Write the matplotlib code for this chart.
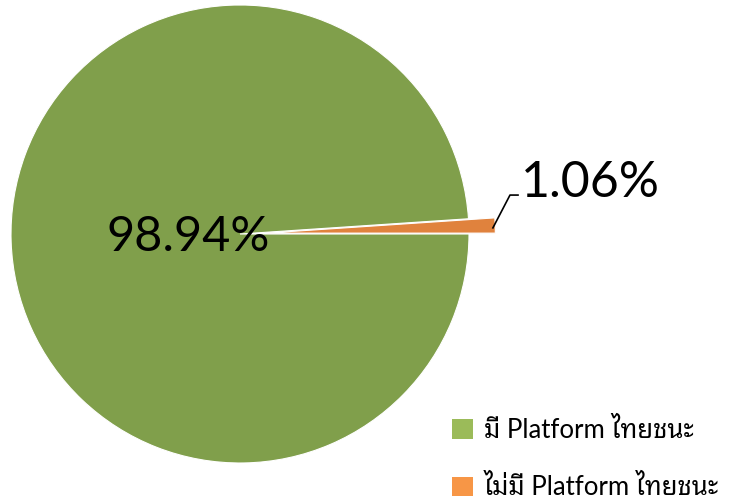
#==[0] Prep environment
import matplotlib
matplotlib.use("Agg")
import matplotlib.pyplot as plt
import numpy as np
from matplotlib.patches import Patch

#==[1] Chart data
labels = ["มี Platform ไทยชนะ", "ไม่มี Platform ไทยชนะ"]
shares = [98.94, 1.06]
pieColors = ["#809F4B", "#E0823D"]
legendColors = ["#9BBB59", "#F79646"]

fontList = ["Lato", "Noto Sans Thai Looped", "DejaVu Sans"]

#==[2] Figure, axes fill the whole picture, radius 1 = 229 px
W, H = 731, 504
cx, cy, R = 240, 234, 229
fig = plt.figure(figsize=(W / 100, H / 100), dpi=100)
ax = fig.add_axes([0, 0, 1, 1])

explode = [0, 0.115]
startAng = shares[1] * 3.6
wedges, _ = ax.pie(shares, colors=pieColors, explode=explode, startangle=startAng,
                   radius=1, center=(0, 0),
                   wedgeprops=dict(edgecolor="white", linewidth=0.8))

ax.set_xlim(-cx / R, (W - cx) / R)
ax.set_ylim(-(H - cy) / R, cy / R)
ax.set_aspect("equal")
ax.axis("off")

#==[3] Percentage labels
ax.text(-0.227, -0.013, "%.2f%%" % shares[0], fontsize=35, family=fontList,
        ha="center", va="center", color="black")

# leader line from the tip of the small wedge
midAng = np.deg2rad(shares[1] * 3.6 / 2)
rTip = 1 + explode[1] - 0.01
x0, y0 = rTip * np.cos(midAng), rTip * np.sin(midAng) - 0.01
xs = [x0, 1.179, 1.214]
ys = [y0, 0.170, 0.170]
ax.plot(xs, ys, color="black", lw=1.2)
ax.text(1.53, 0.223, "%.2f%%" % shares[1], fontsize=36, family=fontList,
        ha="center", va="center", color="black")

#==[4] Legend
handles = [Patch(facecolor=c, edgecolor="none") for c in legendColors]
fig.legend(handles, labels, loc="upper left",
           bbox_to_anchor=(452 / W, 1 - 418 / H),
           frameon=False, borderpad=0, borderaxespad=0,
           handlelength=0.8, handleheight=0.8, handletextpad=0.45,
           labelspacing=1.25,
           prop=dict(family=fontList, size=18.5))

fig.savefig("out.png", dpi=100)
